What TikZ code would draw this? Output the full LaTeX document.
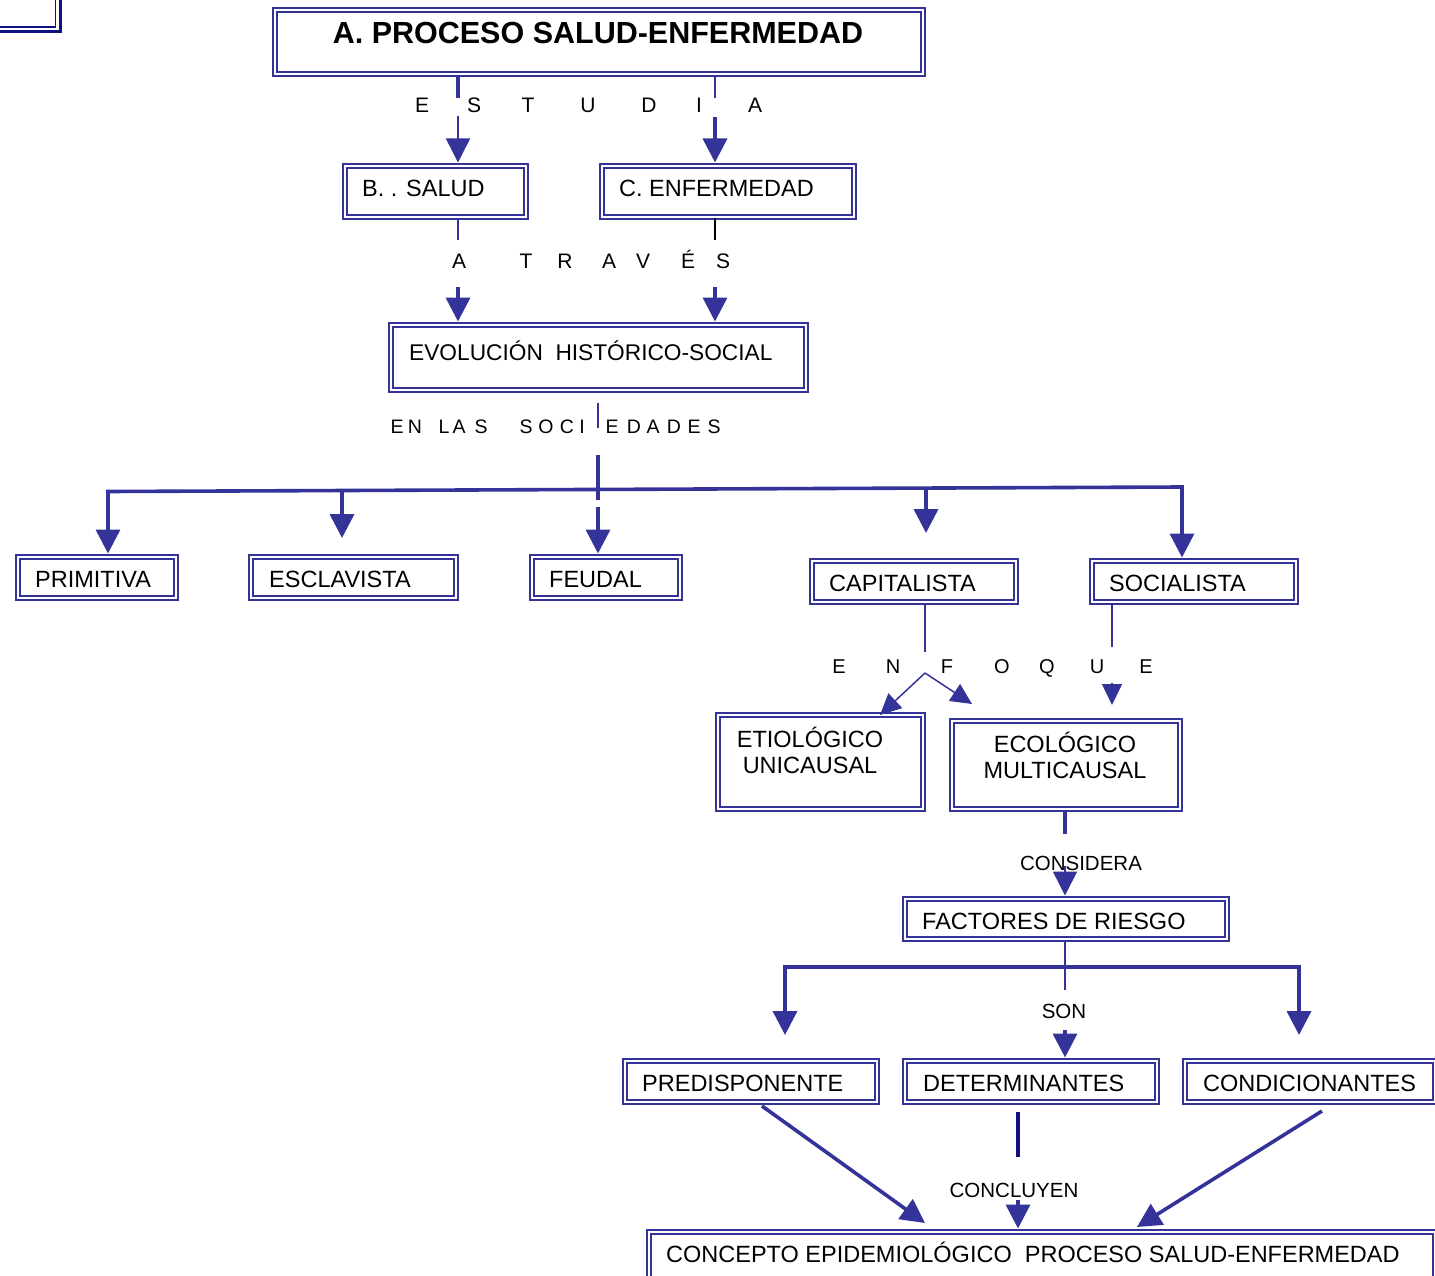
\documentclass[tikz,border=0pt]{standalone}
\usepackage{fontspec}
\setmainfont{Liberation Sans}
\usetikzlibrary{arrows.meta,calc}
\definecolor{bl}{RGB}{51,51,153}
\definecolor{nv}{RGB}{16,16,128}
\newcommand\mybox[5]{\node[dbox,minimum width={#4-#2-6},minimum height={#5-#3-6}] (#1) at (#2+3,#3+3) {};}
\begin{document}
\begin{tikzpicture}[x=1pt,y=-1pt,
  dbox/.style={draw=bl,line width=1.9pt,double=white,double distance=2pt,inner sep=0pt,anchor=north west},
  thk/.style={draw=bl,line width=3.6pt},
  thn/.style={draw=bl,line width=1.5pt},
  arr/.style={-{Triangle[length=24pt,width=24pt]}},
  arrb/.style={arr,shorten >=2.5pt},
  arrs/.style={-{Triangle[length=21pt,width=20pt]}},
  tx/.style={inner sep=0pt,anchor=base west,font=\fontsize{23.5}{28}\selectfont},
  txc/.style={inner sep=0pt,anchor=base,font=\fontsize{23.5}{28}\selectfont},
  lbl/.style={inner sep=0pt,anchor=base,font=\fontsize{20.5}{24}\selectfont},
  ltr/.style={inner sep=0pt,anchor=base}]
\useasboundingbox (0,0) rectangle (1435,1276);
\fill[white] (0,0) rectangle (1435,1276);
% partial box top left
\draw[nv,line width=2.6pt] (-10,31.5) -- (60.5,31.5) -- (60.5,-10);
\draw[nv,line width=1.6pt] (-10,27) -- (55.5,27) -- (55.5,-10);
% boxes
\mybox{A}{271}{6}{925}{76}
\mybox{B}{341}{162}{528}{219}
\mybox{C}{598}{162}{856}{219}
\mybox{EVO}{387}{321}{808}{392}
\mybox{PRIM}{14}{553}{178}{600}
\mybox{ESCL}{247}{553}{458}{600}
\mybox{FEUD}{528}{553}{682}{600}
\mybox{CAPI}{808}{557}{1018}{604}
\mybox{SOCI}{1088}{557}{1298}{604}
\mybox{ETIO}{714}{711}{925}{811}
\mybox{ECO}{948}{717}{1182}{811}
\mybox{FACT}{901}{895}{1229}{941}
\mybox{PRED}{621}{1057}{879}{1104}
\mybox{DETE}{901}{1057}{1159}{1104}
\mybox{COND}{1181}{1057}{1437}{1104}
\mybox{CONC}{645}{1228}{1437}{1290}
% texts
\node[inner sep=0pt,anchor=base,font=\bfseries\fontsize{30.5}{36}\selectfont] (At) at (598,44) {A. PROCESO SALUD-ENFERMEDAD};
\node[tx] (Bt) at (362,197) {B. . SALUD};
\node[tx] (Ct) at (619,197) {C. ENFERMEDAD};
\node[tx,font=\fontsize{22.7}{27}\selectfont] (EVOt) at (409,360) {EVOLUCIÓN\ \ HISTÓRICO-SOCIAL};
\node[tx] (PRIMt) at (35,587.5) {PRIMITIVA};
\node[tx] (ESCLt) at (269,587.5) {ESCLAVISTA};
\node[tx] (FEUDt) at (549,587.5) {FEUDAL};
\node[tx] (CAPIt) at (829,591.5) {CAPITALISTA};
\node[tx] (SOCIt) at (1109,591.5) {SOCIALISTA};
\node[txc] (ETIOt1) at (810,747) {ETIOLÓGICO};
\node[txc] (ETIOt2) at (810,773) {UNICAUSAL};
\node[txc] (ECOt1) at (1065,752) {ECOLÓGICO};
\node[txc] (ECOt2) at (1065,778) {MULTICAUSAL};
\node[tx] (FACTt) at (922,929.5) {FACTORES DE RIESGO};
\node[tx] (PREDt) at (642,1091.5) {PREDISPONENTE};
\node[tx] (DETEt) at (923,1091.5) {DETERMINANTES};
\node[tx] (CONDt) at (1203,1091.5) {CONDICIONANTES};
\node[tx] (CONCt) at (666,1262.5) {CONCEPTO EPIDEMIOLÓGICO\ \ PROCESO SALUD-ENFERMEDAD};
% spaced letter labels
\foreach \c/\x [count=\i] in {E/422,S/474,T/528,U/588,D/649,I/699,A/755}
  \node[ltr,font=\fontsize{21}{25}\selectfont] (es\i) at (\x,113) {\c};
\foreach \c/\x [count=\i] in {A/459,T/526,R/565,A/609,V/643,É/688,S/723}
  \node[ltr,font=\fontsize{21}{25}\selectfont] (at\i) at (\x,268) {\c};
\foreach \c/\x [count=\i] in {E/397,N/415,L/444,A/459,S/481,S/526,O/546,C/567,I/582,E/612,D/634,A/653,D/674,E/694,S/714}
  \node[ltr,font=\fontsize{19.5}{23}\selectfont] (so\i) at (\x,433) {\c};
\foreach \c/\x [count=\i] in {E/839,N/893,F/947,O/1002,Q/1047,U/1097,E/1146}
  \node[ltr,font=\fontsize{20}{24}\selectfont] (en\i) at (\x,673.5) {\c};
\node[lbl] (cons) at (1081,870) {CONSIDERA};
\node[lbl] (son) at (1064,1018.5) {SON};
\node[lbl] (conc) at (1014,1197.5) {CONCLUYEN};
% coordinates
\coordinate (ab1) at (458,98); \coordinate (ab2) at (458,116);
\coordinate (ac1) at (715,98); \coordinate (ac2) at (715,117);
\coordinate (be1) at (458,240); \coordinate (be2) at (458,287);
\coordinate (ce1) at (715,240); \coordinate (ce2) at (715,287);
\coordinate (ev1) at (598,403); \coordinate (ev2) at (598,428);
\coordinate (ev3) at (598,455); \coordinate (ev4) at (598,500);
\coordinate (ev5) at (598,507);
\coordinate (bL) at (108,491.5); \coordinate (bR) at (1182,487);
\coordinate (b2) at (342,490.5); \coordinate (b2t) at (342,538);
\coordinate (b4) at (926,488); \coordinate (b4t) at (926,533);
\coordinate (cp1) at (925,652); \coordinate (cp2) at (925,673);
\coordinate (cp3) at (880,715); \coordinate (cp4) at (972,704);
\coordinate (sc1) at (1112,647); \coordinate (sc2) at (1112,683); \coordinate (sc3) at (1112,705);
\coordinate (ec1) at (1065,834); \coordinate (ec2) at (1065,866);
\coordinate (fa1) at (1065,990); \coordinate (fa2) at (1065,1030);
\coordinate (c1) at (785,967); \coordinate (c2) at (1299,967);
\coordinate (c1t) at (785,1035); \coordinate (c2t) at (1299,1035);
\coordinate (pr1) at (762,1106); \coordinate (pr2) at (925,1223);
\coordinate (de1) at (1018,1112); \coordinate (de2) at (1018,1157); \coordinate (de3) at (1018,1200);
\coordinate (co1) at (1322,1111); \coordinate (co2) at (1137,1227);
% connectors
\draw[thk] (A.south -| ab1) -- (ab1);
\draw[thn,arrb] (ab2) -- (B.north -| ab2);
\draw[thn] (A.south -| ac1) -- (ac1);
\draw[thk,arrb] (ac2) -- (C.north -| ac2);
\draw[thn] (B.south -| be1) -- (be1);
\draw[thk,arrb] (be2) -- (EVO.north -| be2);
\draw[black,line width=1.5pt] (C.south -| ce1) -- (ce1);
\draw[thk,arrb] (ce2) -- (EVO.north -| ce2);
\draw[thn] (ev1) -- (ev2);
\draw[thk] (ev3) -- (ev4);
\draw[thk,arrb] (ev5) -- (FEUD.north -| ev5);
\draw[thk,{Triangle[length=24pt,width=24pt]}-{Triangle[length=24pt,width=24pt]},shorten <=2.5pt,shorten >=2.5pt]
  (PRIM.north -| bL) -- (bL) -- (bR) -- (SOCI.north -| bR);
\draw[thk,arr] (b2) -- (b2t);
\draw[thk,arr] (b4) -- (b4t);
\draw[thn] (CAPI.south -| cp1) -- (cp1);
\draw[thn,arrs] (cp2) -- (cp3);
\draw[thn,arrs] (cp2) -- (cp4);
\draw[thn] (SOCI.south -| sc1) -- (sc1);
\draw[thn,arrs] (sc2) -- (sc3);
\draw[thk] (ECO.south -| ec1) -- (ec1);
\draw[thn,arrb] (ec2) -- (FACT.north -| ec2);
\draw[thn] (FACT.south -| fa1) -- (fa1);
\draw[thk,{Triangle[length=24pt,width=24pt]}-{Triangle[length=24pt,width=24pt]}] (c1t) -- (c1) -- (c2) -- (c2t);
\draw[thk,arrb] (fa2) -- (DETE.north -| fa2);
\draw[thk,arr] (pr1) -- (pr2);
\draw[nv,line width=3.4pt] (de1) -- (de2);
\draw[thk,arrb] (de3) -- (CONC.north -| de3);
\draw[thk,arr] (co1) -- (co2);
\end{tikzpicture}
\end{document}
